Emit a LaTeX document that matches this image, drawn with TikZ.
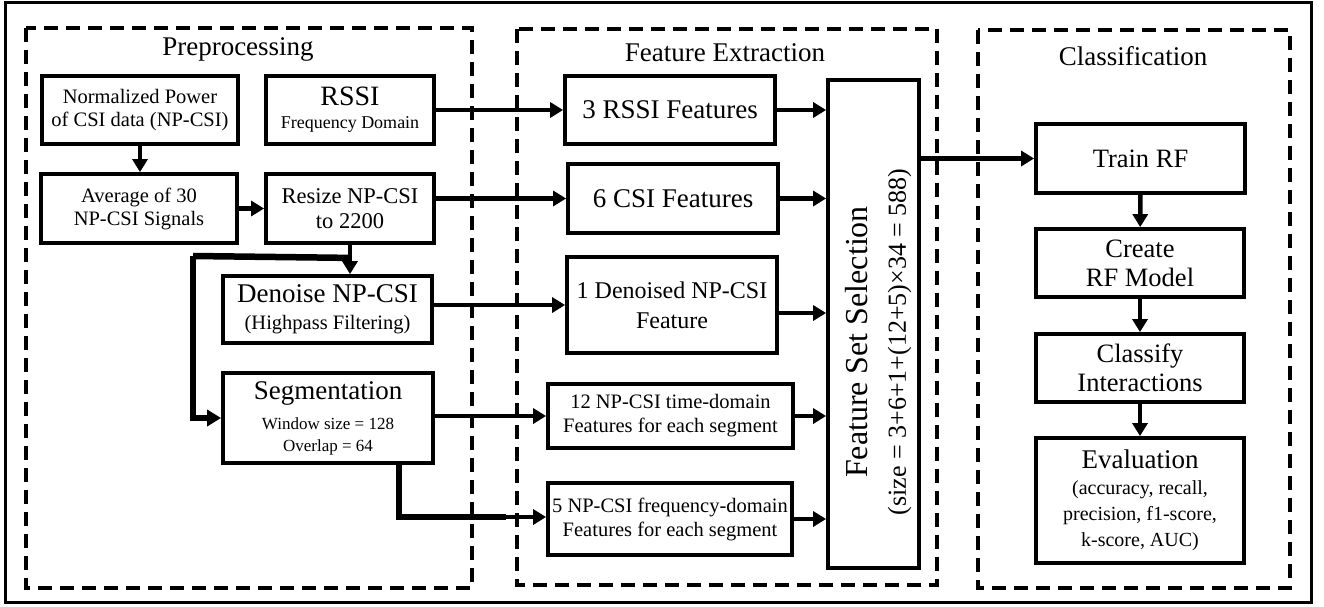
\documentclass[tikz,border=0pt]{standalone}
\usepackage{fontspec}
\setmainfont{Liberation Serif}
\usetikzlibrary{arrows.meta,calc}
\begin{document}
\begin{tikzpicture}[x=1pt,y=-1pt,
  box/.style={draw, line width=3.8pt, inner sep=0pt, align=center},
  grp/.style={draw, line width=3.5pt, dash pattern=on 14pt off 8pt},
  arr/.style={line width=4.5pt, -{Triangle[length=13pt,width=15pt]}},
  tarr/.style={line width=6.5pt, -{Triangle[length=14pt,width=16pt]}},
  tline/.style={line width=6.5pt},
  ttl/.style={font=\fontsize{27}{30}\selectfont, anchor=base},
  fbig/.style={font=\fontsize{26.5}{29}\selectfont},
  fmid/.style={font=\fontsize{20.5}{23}\selectfont},
]
\useasboundingbox (0,0) rectangle (1324,607);
% frames
\draw[line width=3pt] (5,3) rectangle (1311,602);
\draw[grp] (26,28) rectangle (472,588);
\draw[grp] (517,29) rectangle (937,585);
\draw[grp] (978,30) rectangle (1290,588);
\node[ttl] (tpre) at (238,56) {Preprocessing};
\node[ttl] (tfe) at (725,62) {Feature Extraction};
\node[ttl] (tcl) at (1133,66) {Classification};
% preprocessing
\node[box, fmid, minimum width=196pt, minimum height=68pt] (np) at (140,110) {Normalized Power\\of CSI data (NP-CSI)};
\node[box, font=\fontsize{18}{23}\selectfont, minimum width=168pt, minimum height=68pt] (rssi) at (350,110) {\fontsize{28}{23}\selectfont RSSI\\\fontsize{18}{23}\selectfont Frequency Domain};
\node[box, fmid, minimum width=196pt, minimum height=69pt] (avg) at (139,208.5) {Average of 30\\NP-CSI Signals};
\node[box, font=\fontsize{22.5}{25}\selectfont, minimum width=168pt, minimum height=69pt] (resize) at (350,208.5) {Resize NP-CSI\\to 2200};
\node[box, font=\fontsize{20.5}{27}\selectfont, minimum width=209pt, minimum height=67pt] (den) at (327.5,309.5) {\fontsize{27}{27}\selectfont Denoise NP-CSI\\\fontsize{20.5}{27}\selectfont (Highpass Filtering)};
\node[box, font=\fontsize{17}{22}\selectfont, minimum width=210pt, minimum height=90pt] (seg) at (328,418) {\fontsize{27}{22}\selectfont Segmentation\\[8pt]\fontsize{17}{22}\selectfont Window size = 128\\Overlap = 64};
% feature extraction
\node[box, font=\fontsize{27}{30}\selectfont, minimum width=210pt, minimum height=68pt] (fe1) at (670,110) {3 RSSI Features};
\node[box, font=\fontsize{27}{30}\selectfont, minimum width=210pt, minimum height=69pt] (fe2) at (673,198.5) {6 CSI Features};
\node[box, font=\fontsize{24}{30}\selectfont, minimum width=210pt, minimum height=96pt] (fe3) at (672,305) {1 Denoised NP-CSI\\Feature};
\node[box, font=\fontsize{20.5}{24}\selectfont, minimum width=245pt, minimum height=64pt] (fe4) at (670.5,416) {12 NP-CSI time-domain\\Features for each segment};
\node[box, font=\fontsize{20.5}{24}\selectfont, minimum width=244pt, minimum height=72pt] (fe5) at (670,519) {5 NP-CSI frequency-domain\\Features for each segment};
\node[box, minimum width=91pt, minimum height=488pt] (fss) at (873.5,324) {};
\node[rotate=90, align=center, inner sep=0pt, font=\fontsize{26}{38}\selectfont] (fsst) at ($(fss.center)+(5,18)$) {\fontsize{32}{38}\selectfont Feature Set Selection\\\fontsize{26}{38}\selectfont (size = 3+6+1+(12+5)×34 = 588)};
% classification
\node[box, fbig, minimum width=209pt, minimum height=69pt] (train) at (1140.5,158.5) {Train RF};
\node[box, fbig, minimum width=208pt, minimum height=68pt] (create) at (1140,263) {Create\\RF Model};
\node[box, fbig, minimum width=208pt, minimum height=68pt] (classify) at (1140,368) {Classify\\Interactions};
\node[box, font=\fontsize{20}{26}\selectfont, minimum width=208pt, minimum height=125pt] (eval) at (1140,500.5) {\fontsize{27}{26}\selectfont Evaluation\\\fontsize{20}{26}\selectfont (accuracy, recall,\\precision, f1-score,\\k-score, AUC)};
% connectors
\draw[arr] (rssi.east) -- (rssi.east -| fe1.west);
\draw[arr] (np.south) -- (np.south |- avg.north);
\draw[arr] (avg.east) -- (avg.east -| resize.west);
\draw[arr] (resize.east |- fe2.west) -- (fe2.west);
\draw[arr] (resize.south) -- (resize.south |- den.north);
\coordinate (br) at ($(resize.south)+(0,13)$);
\coordinate (bl) at (193,256);
\draw[tline] (br) -- (bl);
\draw[tarr] (bl) |- (seg.west);
\draw[arr] (den.east |- fe3.west) -- (fe3.west);
\draw[arr] (seg.east |- fe4.west) -- (fe4.west);
\draw[tline] ($(seg.south)+(71,0)$) |- ($(fe5.west)+(-40,-2)$) coordinate (s5);
\draw[arr] (s5) -- ($(fe5.west)+(0,-2)$);
\draw[arr] (fe1.east) -- (fe1.east -| fss.west);
\draw[arr] (fe2.east) -- (fe2.east -| fss.west);
\draw[arr] ($(fe3.east)+(0,8)$) -- ($(fe3.east -| fss.west)+(0,8)$);
\draw[arr] (fe4.east) -- (fe4.east -| fss.west);
\draw[arr] (fe5.east) -- (fe5.east -| fss.west);
\draw[arr] (fss.east |- train.west) -- (train.west);
\draw[arr] (train) -- (create);
\draw[arr] (create) -- (classify);
\draw[arr] (classify) -- (eval);
\end{tikzpicture}
\end{document}
